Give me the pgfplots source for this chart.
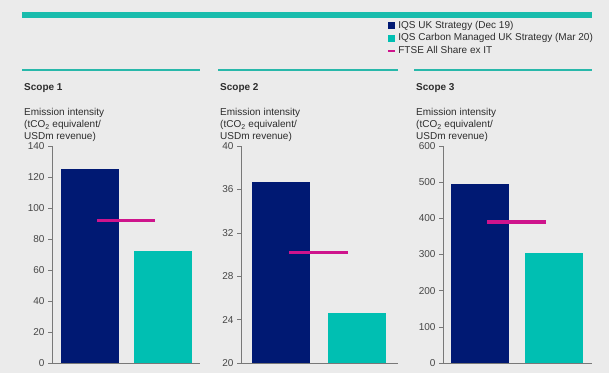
\documentclass[border=0pt]{standalone}
\usepackage{pgfplots}
\pgfplotsset{compat=1.18}
\usepackage{fontspec}
\setmainfont{Liberation Sans}
\definecolor{navy}{RGB}{0,25,115}
\definecolor{tealbar}{RGB}{0,191,178}
\definecolor{tealtop}{RGB}{24,188,172}
\definecolor{teallin}{RGB}{40,184,170}
\definecolor{pinkc}{RGB}{206,20,140}
\definecolor{bg}{RGB}{235,235,235}
\definecolor{axisgrey}{RGB}{120,120,120}
\definecolor{ticktext}{RGB}{70,70,70}
\definecolor{txt}{RGB}{45,45,45}
\newcommand{\fs}{\fontsize{10}{12}\selectfont}
\pgfplotsset{panel/.style={
  scale only axis, anchor=south west,
  axis lines*=left, xtick=\empty,
  tick align=outside, major tick length=4pt,
  ytick style={color=axisgrey, line width=0.6pt},
  axis line style={axisgrey, line width=0.6pt},
  yticklabel style={font=\fs, text=ticktext},
  /pgf/number format/assume math mode=true,
  height=217pt,
}}
\begin{document}
\begin{tikzpicture}[x=1pt,y=1pt]
\useasboundingbox (0,0) rectangle (609,373);
\fill[bg] (0,0) rectangle (609,373);
% top stripe
\fill[tealtop] (22,355) rectangle (592,361);
% header lines
\fill[teallin] (22,302) rectangle (200,304);
\fill[teallin] (218,302) rectangle (398,304);
\fill[teallin] (414,302) rectangle (592,304);
% headers
\foreach \xx/\nn in {24/1,220/2,416/3}{
  \node[anchor=base west, inner sep=0pt, font=\fs\bfseries, text=txt] at (\xx,283) {Scope \nn};
  \node[anchor=base west, inner sep=0pt, font=\fs, text=txt] at (\xx,257.5) {Emission intensity};
  \node[anchor=base west, inner sep=0pt, font=\fs, text=txt] at (\xx,245.5) {(tCO\textsubscript{2} equivalent/};
  \node[anchor=base west, inner sep=0pt, font=\fs, text=txt] at (\xx,233.5) {USDm revenue)};
}
% Scope 1
\begin{axis}[panel, at={(52pt,10pt)}, width=148pt, xmin=0, xmax=148,
  ymin=0, ymax=140, ytick={0,20,...,140}]
\addplot[ybar, bar width=58, bar shift=0pt, fill=navy, draw=none] coordinates {(38,125)};
\addplot[ybar, bar width=58, bar shift=0pt, fill=tealbar, draw=none] coordinates {(110.5,72)};
\addplot[pinkc, line width=3.5pt, no marks] coordinates {(45,92) (103,92)};
\end{axis}
% Scope 2
\begin{axis}[panel, at={(241pt,10pt)}, width=157pt, xmin=0, xmax=157,
  ymin=20, ymax=40, ytick={20,24,...,40}]
\addplot[ybar, bar width=58, bar shift=0pt, fill=navy, draw=none] coordinates {(39.5,36.7)};
\addplot[ybar, bar width=58, bar shift=0pt, fill=tealbar, draw=none] coordinates {(115.5,24.6)};
\addplot[pinkc, line width=3.5pt, no marks] coordinates {(48,30.2) (107,30.2)};
\end{axis}
% Scope 3
\begin{axis}[panel, at={(443pt,10pt)}, width=149pt, xmin=0, xmax=149,
  ymin=0, ymax=600, ytick={0,100,...,600},
  legend style={at={(axis description cs:-0.378,1.577)}, anchor=north west,
    draw=none, fill=none, inner sep=0pt, row sep=3pt, column sep=2pt,
    font=\fs, text=txt, nodes={inner sep=0.5pt, text height=7pt, text depth=1.5pt}},
  legend cell align=left]
\addplot[ybar, bar width=58, bar shift=0pt, fill=navy, draw=none,
  legend image code/.code={\fill[navy] (0pt,-3.5pt) rectangle (7pt,3.5pt);}] coordinates {(37,495)};
\addlegendentry{IQS UK Strategy (Dec 19)}
\addplot[ybar, bar width=58, bar shift=0pt, fill=tealbar, draw=none,
  legend image code/.code={\fill[tealbar] (0pt,-3.5pt) rectangle (7pt,3.5pt);}] coordinates {(110.5,304)};
\addlegendentry{IQS Carbon Managed UK Strategy (Mar 20)}
\addplot[pinkc, line width=3.5pt, no marks,
  legend image code/.code={\draw[pinkc, line width=2pt] (0pt,0pt) -- (7pt,0pt);}] coordinates {(44,390) (103,390)};
\addlegendentry{FTSE All Share ex IT}
\end{axis}
\end{tikzpicture}
\end{document}
